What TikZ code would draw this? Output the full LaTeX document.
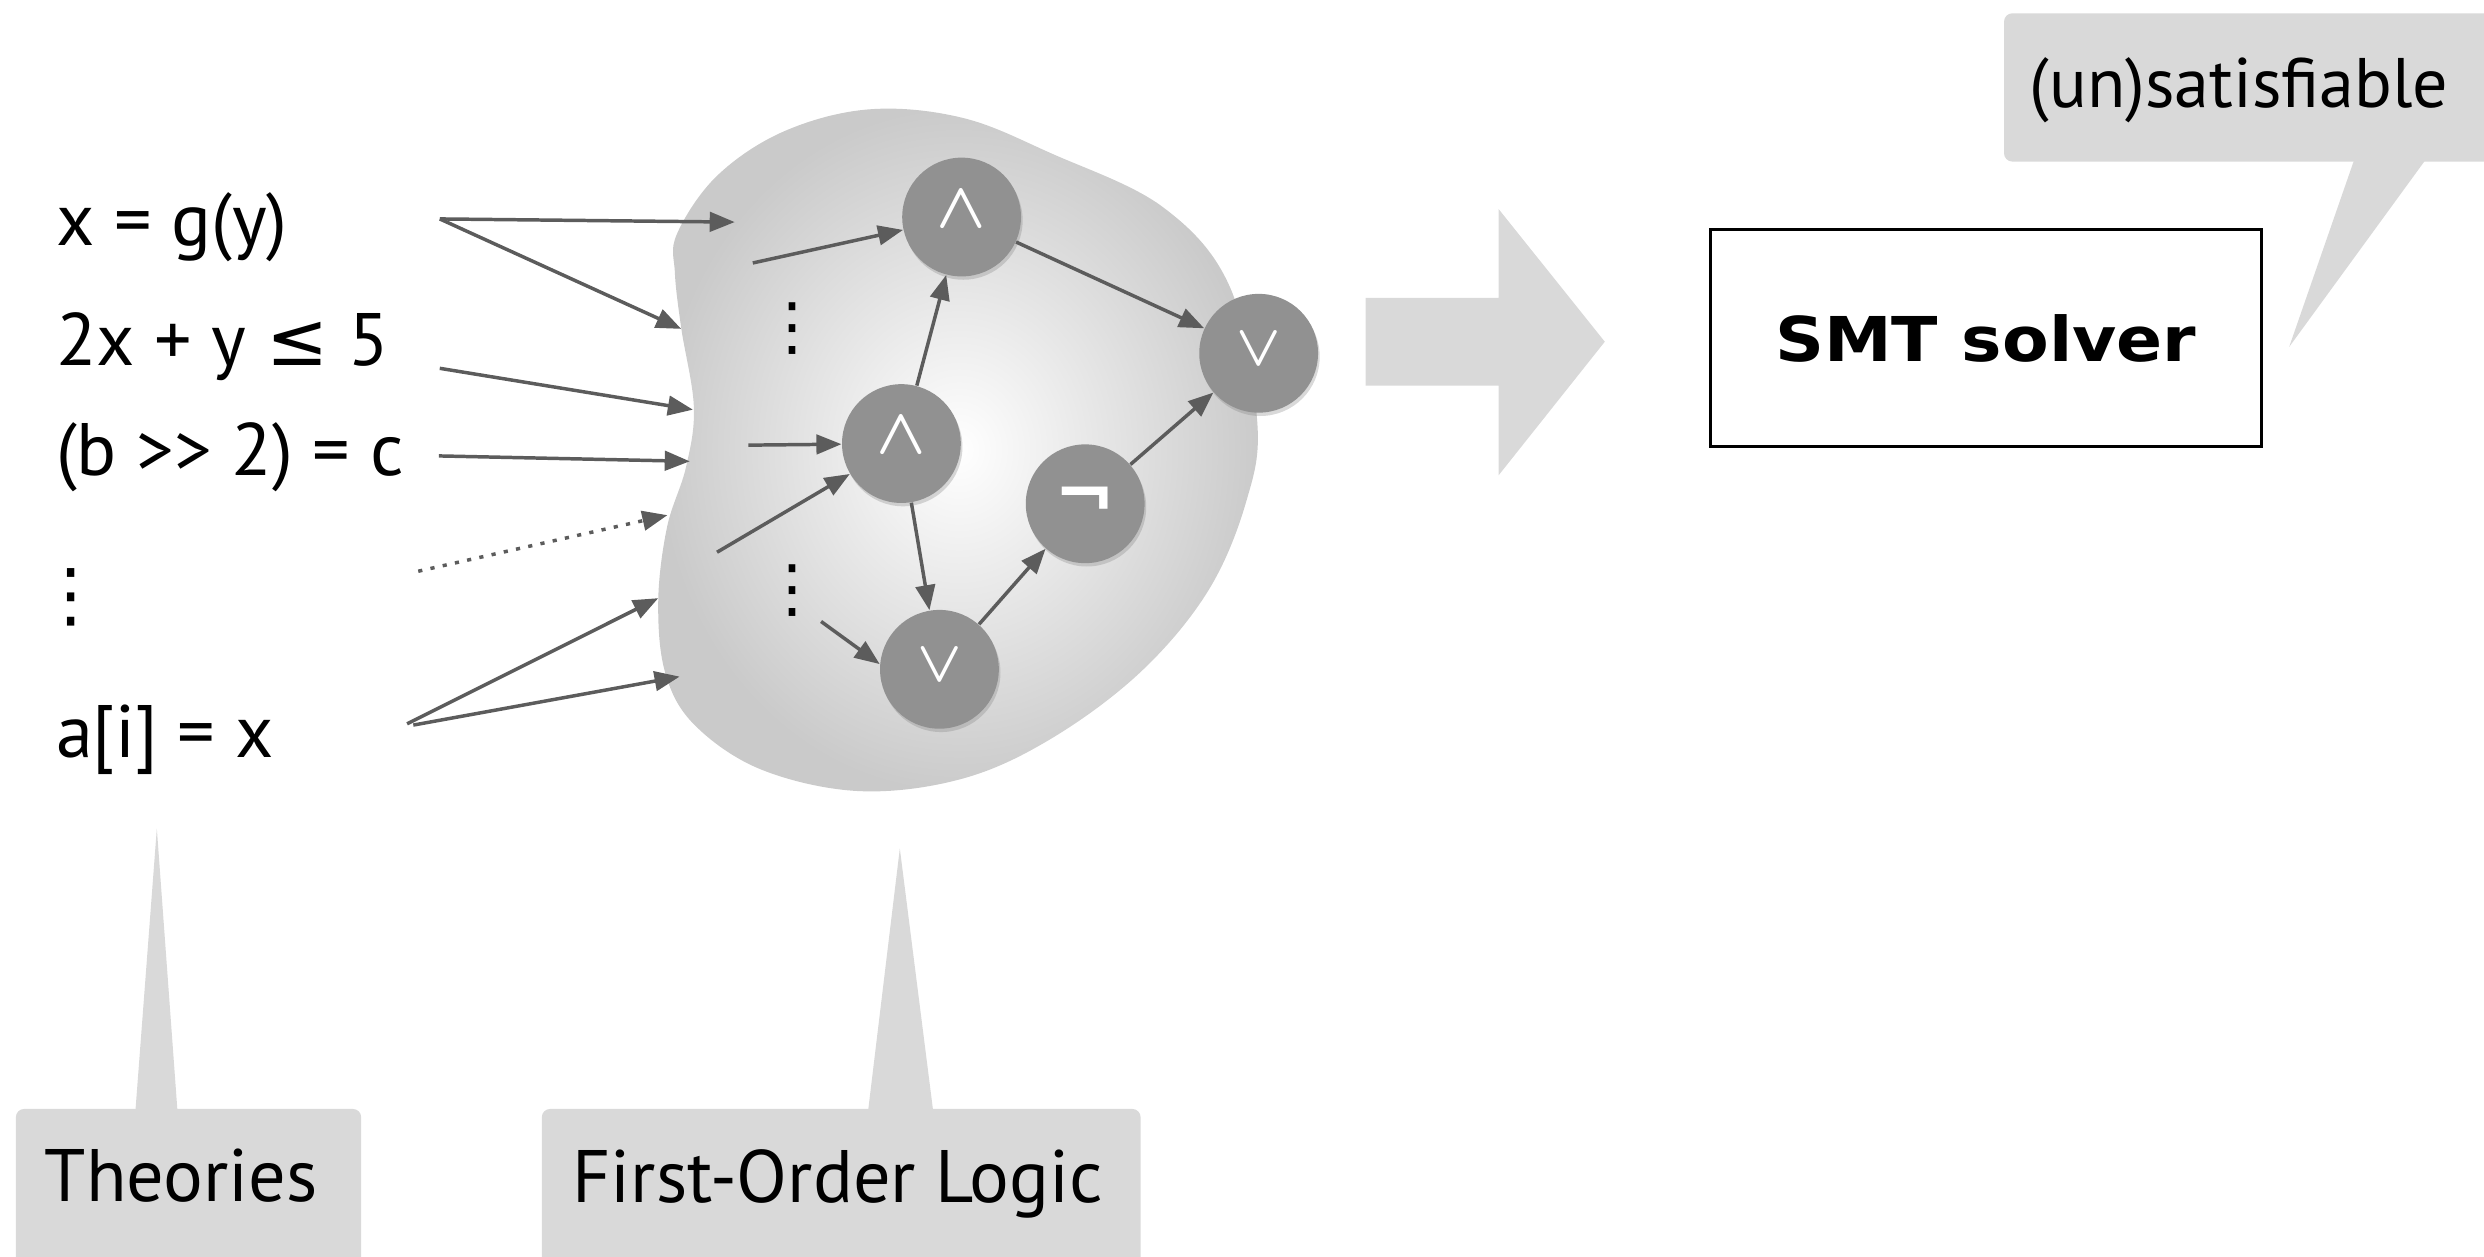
\documentclass[tikz,border=0pt]{standalone}
\usepackage{fontspec}
\usepackage{graphicx}
\setmainfont{PT Sans}
\newfontfamily\smtfont{DejaVu Sans}
\usetikzlibrary{arrows.meta,shadows}
\definecolor{calloutgray}{RGB}{217,217,217}
\definecolor{nodegray}{RGB}{145,145,145}
\definecolor{arrowgray}{RGB}{92,92,92}
\definecolor{blobgray}{RGB}{202,202,202}
\newcommand\bigfont{\fontsize{26.7}{32}\selectfont}
\newcommand\vdotsglyph[1]{{\smtfont\fontsize{#1}{#1}\selectfont ⋮}}
\newcommand\andsym{\raisebox{2.8pt}[\height][\depth]{\resizebox{17.8pt}{!}{\boldmath$\wedge$}}}
\newcommand\orsym{\raisebox{1.4pt}[\height][\depth]{\resizebox{16pt}{!}{\boldmath$\vee$}}}
\newcommand\notsym{\resizebox{22pt}{!}{\smtfont\bfseries ¬}}
\begin{document}
\begin{tikzpicture}[x=0.02cm,y=-0.02cm,
  formula/.style={anchor=base west, inner sep=0pt, font=\bigfont},
  calltext/.style={anchor=base west, inner sep=0pt, font=\bigfont},
  callout/.style={fill=calloutgray},
  gate/.style={circle, fill=nodegray, minimum size=1.5cm, inner sep=0pt, text=white,
    drop shadow={shadow xshift=0.6pt, shadow yshift=-1.2pt, opacity=0.3}},
  link/.style={draw=arrowgray, line width=1.25pt, -{Triangle[length=9pt,width=7pt]}},
]
\useasboundingbox (0,0) rectangle (1568,793);

% blob
\shade[inner color=white, outer color=blobgray] plot[smooth cycle, tension=0.6] coordinates {
 (549,69) (607.6,74.4) (664,97) (734,130.7) (776.5,181.5) (793.6,266) (786.6,316.8)
 (762.6,373) (720.3,423.9) (664,466) (607.6,491.5) (542.8,499.4) (480.8,485.9)
 (438.5,457.7) (420,425) (415.5,380) (421,333) (433,295) (438,257) (430,207)
 (426,172) (427.3,147.7) (452.6,111.0) (494.9,82.9)};

% formulas
\node[formula] (f1) at (35,155) {x = g(y)};
\node[formula] (f2) at (35,231) {2x + y {\smtfont ≤} 5};
\node[formula] (f3) at (35,300) {(b >\kern0pt> 2) = c};
\node[formula, anchor=center] (f4) at (45,377) {\vdotsglyph{25.6}};
\node[formula] (f5) at (35,478) {a[i] = x};

% gates
\node[gate] (A1) at (607,137) {\andsym};
\node[gate] (A2) at (569,280) {\andsym};
\node[gate] (O1) at (593,422.5) {\orsym};
\node[gate] (N) at (685,318) {\notsym};
\node[gate] (O2) at (794.5,223) {\orsym};

\node[formula, anchor=center] (d1) at (500,207.5) {\vdotsglyph{23}};
\node[formula, anchor=center] (d2) at (500,372.5) {\vdotsglyph{23}};

% coordinates of free ends
\coordinate (s1) at (277.6,138.2);
\coordinate (t1) at (463.8,140.2);
\coordinate (t2) at (430,207.6);
\coordinate (s3) at (277.6,232.5);
\coordinate (t3) at (437.4,258.6);
\coordinate (s4) at (277,287.8);
\coordinate (t4) at (435.4,291.2);
\coordinate (s5) at (264,360.6);
\coordinate (t5) at (421.3,325.2);
\coordinate (s6) at (257,456.9);
\coordinate (t6) at (415.5,377.6);
\coordinate (s7) at (260.9,457.7);
\coordinate (t7) at (429,427.1);
\coordinate (u1) at (475.2,166);
\coordinate (u2) at (472.4,281);
\coordinate (u3) at (452.6,348.6);
\coordinate (u4) at (518.3,392.3);

\draw[link] (s1) -- (t1);
\draw[link] (s1) -- (t2);
\draw[link] (s3) -- (t3);
\draw[link] (s4) -- (t4);
\draw[link, dash pattern=on 1.5pt off 3pt] (s5) -- (t5);
\draw[link] (s6) -- (t6);
\draw[link] (s7) -- (t7);

\draw[link] (u1) -- (A1);
\draw[link] (u2) -- (A2);
\draw[link] (u3) -- (A2);
\draw[link] (u4) -- (O1.175);
\draw[link] (A2) -- (A1);
\draw[link] (A1) -- (O2);
\draw[link] (A2) -- (O1);
\draw[link] (O1) -- (N);
\draw[link] (N) -- (O2);

% block arrow
\fill[calloutgray] (862,188) -- (946,188) -- (946,132) -- (1013,215.7) -- (946,300)
  -- (946,243.5) -- (862,243.5) -- cycle;

% SMT solver
\node[draw, line width=0.95pt, minimum width=6.96cm, minimum height=2.74cm, inner sep=0pt]
  (smt) at (1253.5,213.5) {\smtfont\bfseries\fontsize{22.2}{26}\selectfont\scalebox{1.1}[1]{SMT solver}};

% callouts
\fill[callout, rounded corners=3pt] (1265,8.4) rectangle (1620,102);
\fill[callout] (1486,101) -- (1531,101) -- (1445,219) -- cycle;
\node[calltext, font=\fontsize{25.2}{30}\selectfont] (unsat) at (1281,68) {(un)satisfiable};

\fill[callout, rounded corners=3pt] (10,700) rectangle (228,830);
\fill[callout] (85.5,701) -- (112,701) -- (99,523) -- cycle;
\node[calltext] (theo) at (28,758.6) {Theories};

\fill[callout, rounded corners=3pt] (342,700) rectangle (720,830);
\fill[callout] (548,701) -- (589,701) -- (568,535.6) -- cycle;
\node[calltext] (fol) at (361,759) {First-Order Logic};
\end{tikzpicture}
\end{document}
